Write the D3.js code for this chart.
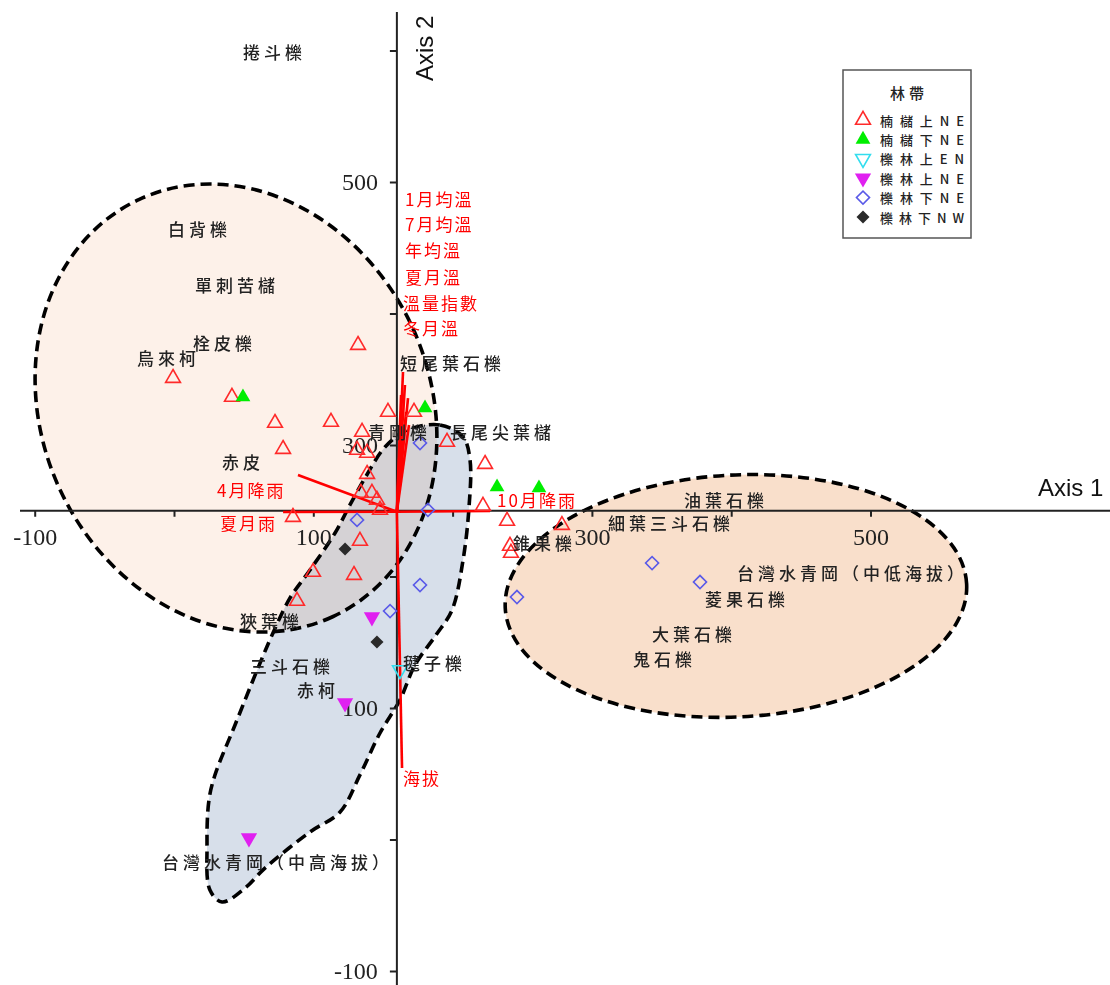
<!DOCTYPE html>
<html><head><meta charset="utf-8">
<script src="https://cdnjs.cloudflare.com/ajax/libs/d3/7.8.5/d3.min.js"></script>
<style>body{margin:0;background:#fff} svg{display:block}</style>
</head><body><svg id="c" width="1110" height="985"></svg>
<script>
// ---------------- DATA ----------------
const groupNames = ["楠櫧上NE","楠櫧下NE","櫟林上EN","櫟林上NE","櫟林下NE","櫟林下NW"];
const legendTitle = "林帶";

// site scores (Axis 1, Axis 2)
const sitesNanZhuUpperNE = [
  [132.1,376.0],[-0.7,350.9],[41.6,336.5],[72.5,316.7],[112.7,317.5],[153.6,325.1],[172.3,325.1],
  [78.3,296.9],[135.0,309.9],[131.4,296.2],[138.6,293.9],[138.6,277.9],[134.2,263.5],[142.1,263.5],
  [145.7,258.2],[147.9,250.6],[85.4,245.2],[196.0,302.3],[223.3,285.5],[221.8,253.6],[239.1,242.2],
  [278.5,239.1],[133.5,227.0],[241.2,223.2],[241.9,217.9],[99.8,203.4],[129.2,201.1],[88.3,181.4]
];
const sitesNanZhuLowerNE = [[49.5,336.5],[180.2,328.1],[231.9,268.1],[262.0,267.3]];
const sitesLiUpperEN = [[162.2,128.9]];
const sitesLiUpperNE = [[142.1,169.2],[122.8,103.8],[53.8,1.1]];
const sitesLiLowerNE = [[176.6,301.5],[182.3,250.6],[131.4,243.0],[176.6,193.5],[155.1,173.7],[246.2,184.4],[343.2,210.2],[377.6,195.8]];
const sitesLiLowerNW = [[122.8,220.9],[145.7,150.2]];

// species scores
const speciesNames = ["捲斗櫟","白背櫟","單刺苦櫧","栓皮櫟","烏來柯","赤皮","短尾葉石櫟","青剛櫟","長尾尖葉櫧",
  "錐果櫟","油葉石櫟","細葉三斗石櫟","台灣水青岡（中低海拔）","菱果石櫟","大葉石櫟","鬼石櫟","狹葉櫟",
  "三斗石櫟","赤柯","毽子櫟","台灣水青岡（中高海拔）"];
const speciesX = [49.5,-4.3,15.1,13.6,-26.6,34.5,162.2,139.3,198.1,243.4,366.1,311.6,404.2,381.2,343.1,329.5,47.4,54.6,88.3,164.4,-8.6];
const speciesY = [598.9,465.0,422.4,378.3,366.2,287.8,363.1,310.6,310.6,226.2,258.2,240.7,203.4,183.6,156.3,138.0,166.9,132.5,114.0,134.9,-17.1];

// environmental vectors (tips) and their label anchors
const envNames  = ["1月均溫","7月均溫","年均溫","夏月溫","溫量指數","冬月溫","4月降雨","夏月雨","10月降雨","海拔"];
const envTipX   = [164.4,165.8,168.0,166.6,163.0,168.7,89.0,78.3,226.9,163.7];
const envTipY   = [355.5,345.6,335.7,325.1,338.0,315.2,277.2,249.0,249.8,54.3];
const envLabelX = [165.8,165.8,165.8,165.8,164.4,164.4,30.9,33.0,231.9,164.4];
const envLabelY = [487.8,468.1,448.3,428.5,408.7,389.7,265.8,240.7,258.9,47.5];

// group envelopes
const leftEllipseCenter = [44.5,328.1];
const rightEllipseCenter = [403.4,185.2];
const hullLiLin = [
  [167.3,311.4],[191.0,315.2],[207.5,306.1],[212.5,288.6],[211.8,252.9],[207.5,212.5],[199.6,174.5],
  [188.1,155.5],[173.0,132.7],[162.2,106.1],[147.9,81.0],[133.5,49.1],[119.2,20.9],[97.6,5.7],
  [65.3,-21.7],[51.0,-36.9],[34.5,-47.5],[25.8,-38.4],[23.7,-4.2],[25.1,30.0],[29.4,49.0],
  [43.8,87.1],[60.3,130.4],[70.4,155.5],[83.3,183.7],[97.6,204.9],[115.6,233.1],[126.3,254.4],
  [137.1,274.9],[151.5,298.5]
];

// axes
const axisOrigin = [160,250];
const xTicks = [-100,0,100,200,300,400,500];
const xTickLabels = ["-100","","100","","300","","500"];
const yTicks = [-100,0,100,200,300,400,500,600];
const yTickLabels = ["-100","","100","","300","","500",""];

// ---------------- LAYOUT / STYLE ----------------
const svg = d3.select("#c");
const x = d3.scaleLinear().domain([-100,500]).range([34.7,870.5]);
const y = d3.scaleLinear().domain([-100,500]).range([971,182]);
const ox = x(axisOrigin[0]), oy = y(axisOrigin[1]);
const cjk = '"Noto Sans CJK TC","Noto Sans CJK SC",sans-serif';

const gFill = svg.append("g");
const gOut = svg.append("g");
const dash = {stroke:"#000","stroke-width":3.6,"stroke-dasharray":"11,6",fill:"none"};

function ellipse(g, c, rx, ry, rot, fill){
  const e = g.append("ellipse").attr("cx",x(c[0])).attr("cy",y(c[1])).attr("rx",rx).attr("ry",ry)
    .attr("transform",`rotate(${rot},${x(c[0])},${y(c[1])})`);
  if(fill) e.attr("fill",fill); else Object.entries(dash).forEach(([k,v])=>e.attr(k,v));
}
ellipse(gFill,leftEllipseCenter,230,194,65,"#fdf1e9");
ellipse(gFill,rightEllipseCenter,231,121,-3,"#f9dfcb");
const hullLine = d3.line().x(d=>x(d[0])).y(d=>y(d[1])).curve(d3.curveCatmullRomClosed.alpha(0.5));
gFill.append("path").attr("d",hullLine(hullLiLin)).attr("fill","#d7dfea").style("mix-blend-mode","multiply");
ellipse(gOut,leftEllipseCenter,230,194,65,null);
ellipse(gOut,rightEllipseCenter,231,121,-3,null);
const hp = gOut.append("path").attr("d",hullLine(hullLiLin));
Object.entries(dash).forEach(([k,v])=>hp.attr(k,v));

// axes
const gx = svg.append("g").attr("transform",`translate(0,${oy})`)
  .call(d3.axisBottom(x).tickValues(xTicks).tickFormat((d,i)=>xTickLabels[i]).tickSize(6).tickPadding(11));
const gy = svg.append("g").attr("transform",`translate(${ox},0)`)
  .call(d3.axisLeft(y).tickValues(yTicks).tickFormat((d,i)=>yTickLabels[i]).tickSize(7).tickPadding(12));
[gx,gy].forEach(g=>{
  g.select(".domain").remove();
  g.selectAll(".tick line").attr("stroke","#222").attr("stroke-width",2);
  g.selectAll(".tick text").attr("fill","#222").style("font-family",'"Liberation Serif",serif').style("font-size","24px");
});
svg.append("line").attr("x1",20).attr("x2",1110).attr("y1",oy).attr("y2",oy).attr("stroke","#222").attr("stroke-width",2);
svg.append("line").attr("x1",ox).attr("x2",ox).attr("y1",12).attr("y2",985).attr("stroke","#222").attr("stroke-width",2);
svg.append("text").attr("x",1038).attr("y",496).text("Axis 1")
  .style("font-family","Arial,'Liberation Sans',sans-serif").style("font-size","24px").attr("fill","#111");
svg.append("text").attr("transform","translate(433,81) rotate(-90)").text("Axis 2")
  .style("font-family","Arial,'Liberation Sans',sans-serif").style("font-size","24px").attr("fill","#111");

// env vectors
const gEnv = svg.append("g");
envNames.forEach((n,i)=>{
  gEnv.append("line").attr("x1",ox).attr("y1",oy+1).attr("x2",x(envTipX[i])).attr("y2",y(envTipY[i]))
    .attr("stroke","#ff0000").attr("stroke-width",2.6);
});

// markers
const sym = (type,size)=>d3.symbol().type(type).size(size)();
const groupsData = [sitesNanZhuUpperNE,sitesNanZhuLowerNE,sitesLiUpperEN,sitesLiUpperNE,sitesLiLowerNE,sitesLiLowerNW];
const markerStyle = [
  {d:sym(d3.symbolTriangle,95),rot:0,fill:"none",stroke:"#ff2a2a"},
  {d:sym(d3.symbolTriangle,95),rot:0,fill:"#00ee00",stroke:"none"},
  {d:sym(d3.symbolTriangle,95),rot:180,fill:"none",stroke:"#33ddee"},
  {d:sym(d3.symbolTriangle,115),rot:180,fill:"#e020f0",stroke:"none"},
  {d:sym(d3.symbolSquare,85),rot:45,fill:"none",stroke:"#5a5ae8"},
  {d:sym(d3.symbolSquare,85),rot:45,fill:"#2a2a2a",stroke:"none"}
];
const gM = svg.append("g");
groupsData.forEach((arr,gi)=>{
  const st = markerStyle[gi];
  gM.selectAll(null).data(arr).enter().append("path")
    .attr("d",st.d).attr("transform",d=>`translate(${x(d[0])},${y(d[1])}) rotate(${st.rot})`)
    .attr("fill",st.fill).attr("stroke",st.stroke).attr("stroke-width",1.6);
});

// species labels
svg.append("g").selectAll("text").data(speciesNames).enter().append("text")
  .attr("x",(d,i)=>x(speciesX[i])).attr("y",(d,i)=>y(speciesY[i])).attr("dominant-baseline","central")
  .text(d=>d).attr("fill","#222").style("font-family",cjk).style("font-size","17px").style("font-weight","500").style("letter-spacing","4px");

// env labels
svg.append("g").selectAll("text").data(envNames).enter().append("text")
  .attr("x",(d,i)=>x(envLabelX[i])).attr("y",(d,i)=>y(envLabelY[i])).attr("dominant-baseline","central")
  .text(d=>d).attr("fill","#ff0000").style("font-family",cjk).style("font-size","17px").style("letter-spacing","2px");

// legend
const lg = svg.append("g").attr("transform","translate(843,70)");
lg.append("rect").attr("x",0).attr("y",0).attr("width",128).attr("height",168).attr("fill","#fff").attr("stroke","#555").attr("stroke-width",1.5);
lg.append("text").attr("x",66).attr("y",22).attr("text-anchor","middle").attr("dominant-baseline","central")
  .text(legendTitle).style("font-family",cjk).style("font-size","15px").style("font-weight","500").style("letter-spacing","4px").attr("fill","#222");
groupNames.forEach((n,i)=>{
  const st = markerStyle[i];
  const yy = 50 + i*19.4;
  lg.append("path").attr("d",st.d).attr("transform",`translate(20,${yy}) rotate(${st.rot})`)
    .attr("fill",st.fill).attr("stroke",st.stroke).attr("stroke-width",1.6);
  lg.append("text").attr("x",37).attr("y",yy).attr("dominant-baseline","central").text(n)
    .attr("textLength",84).attr("lengthAdjust","spacing")
    .style("font-family",cjk).style("font-size","13px").style("font-weight","500").attr("fill","#222");
});
</script></body></html>
